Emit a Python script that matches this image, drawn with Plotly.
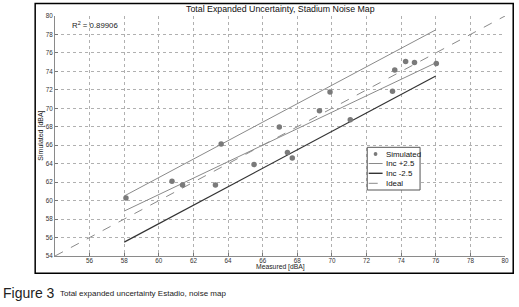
import plotly.graph_objects as go

# ---------------- data ----------------
measured = [58.1, 60.76, 61.37, 63.27, 63.6, 65.5, 66.96, 67.43, 67.71,
            69.28, 69.89, 71.06, 73.5, 73.63, 74.26, 74.77, 76.03]
simulated = [60.28, 62.1, 61.7, 61.7, 66.12, 63.9, 67.97, 65.2, 64.63,
             69.74, 71.77, 68.76, 71.85, 74.16, 75.07, 74.96, 74.85]
inc_x = [58, 76]
inc_plus_y = [60.5, 78.5]
inc_minus_y = [55.5, 73.5]
fit_x = [58, 76.06]
fit_y = [58.87, 74.98]
ideal_x = [54, 80]
ideal_y = [54, 80]
x_ticks = [56, 58, 60, 62, 64, 66, 68, 70, 72, 74, 76, 78, 80]
y_ticks = [54, 56, 58, 60, 62, 64, 66, 68, 70, 72, 74, 76, 78, 80]
r2_text = "R<sup>2</sup> = 0.89906"
title_text = "Total Expanded Uncertainty, Stadium Noise Map"
x_title = "Measured [dBA]"
y_title = "Simulated [dBA]"
legend_names = ["Simulated", "Inc +2.5", "Inc -2.5", "Ideal"]
caption_bold = "Figure 3"
caption_text = "Total expanded uncertainty Estadio, noise map"

# ---------------- layout geometry (pixels) ----------------
W, H = 519, 307
L, R, T, B = 55, 509, 16, 256


def px(x):
    return (x - L) / (R - L)


def py(y):
    return (B - y) / (B - T)


FONT = "Liberation Sans, Arial, sans-serif"
GRAY_PT = "#7a7a7a"
GRAY_LN = "#8a8a8a"
DARK_LN = "#333333"

fig = go.Figure()
fig.add_trace(go.Scatter(x=ideal_x, y=ideal_y, mode="lines",
                         line=dict(color=GRAY_LN, width=1, dash="dash"),
                         name=legend_names[3], showlegend=False))
fig.add_trace(go.Scatter(x=inc_x, y=inc_plus_y, mode="lines",
                         line=dict(color=GRAY_LN, width=1),
                         name=legend_names[1], showlegend=False))
fig.add_trace(go.Scatter(x=fit_x, y=fit_y, mode="lines",
                         line=dict(color=GRAY_LN, width=1),
                         name="fit", showlegend=False))
fig.add_trace(go.Scatter(x=inc_x, y=inc_minus_y, mode="lines",
                         line=dict(color=DARK_LN, width=1.2),
                         name=legend_names[2], showlegend=False))
fig.add_trace(go.Scatter(x=measured, y=simulated, mode="markers",
                         marker=dict(color=GRAY_PT, size=5.5),
                         name=legend_names[0], showlegend=False))

axis_common = dict(showgrid=True, gridcolor="#b0b0b0", griddash="dot",
                   gridwidth=1, zeroline=False, showline=True,
                   linecolor="#8a8a8a", linewidth=1, ticks="inside",
                   ticklen=3, tickcolor="#777777",
                   tickfont=dict(family=FONT, size=6.3, color="#333333"))
fig.update_xaxes(range=[54, 80], tickvals=x_ticks, ticklabelstandoff=-2,
                 **axis_common)
fig.update_yaxes(range=[54, 80], tickvals=y_ticks, **axis_common)

shapes = []
annotations = []
# outer frame
shapes.append(dict(type="rect", xref="paper", yref="paper",
                   x0=px(35), x1=px(517.3), y0=py(273.3), y1=py(3.5),
                   line=dict(color="black", width=1.5)))
# title
annotations.append(dict(text=title_text, xref="paper", yref="paper",
                        x=px(282), y=py(8.5), showarrow=False,
                        xanchor="center", yanchor="middle",
                        font=dict(family=FONT, size=8.8, color="#111111")))
# R^2
annotations.append(dict(text=r2_text, xref="paper", yref="paper",
                        x=px(70), y=py(25.5), showarrow=False,
                        xanchor="left", yanchor="middle",
                        font=dict(family=FONT, size=7.8, color="#222222")))
# axis titles
annotations.append(dict(text=x_title, xref="paper", yref="paper",
                        x=px(282), y=py(267.3), showarrow=False,
                        xanchor="center", yanchor="middle",
                        font=dict(family=FONT, size=6.8, color="#222222")))
annotations.append(dict(text=y_title, xref="paper", yref="paper",
                        x=px(40.5), y=py(136), showarrow=False, textangle=-90,
                        xanchor="center", yanchor="middle",
                        font=dict(family=FONT, size=7, color="#222222")))
# manual legend
shapes.append(dict(type="rect", xref="paper", yref="paper",
                   x0=px(370), x1=px(423.3), y0=py(190), y1=py(147.3),
                   fillcolor="white", line=dict(color="#555555", width=1),
                   layer="above"))
rows = [154, 163.5, 173.3, 183.3]
shapes.append(dict(type="circle", xref="paper", yref="paper",
                   x0=px(376.5), x1=px(380.3), y0=py(rows[0] + 1.9), y1=py(rows[0] - 1.9),
                   fillcolor=GRAY_PT, line=dict(color=GRAY_PT, width=0),
                   layer="above"))
legend_styles = [(GRAY_LN, 1, "solid"), (DARK_LN, 1.4, "solid"), (GRAY_LN, 1, "dash")]
for r, (c, w, d) in zip(rows[1:], legend_styles):
    shapes.append(dict(type="line", xref="paper", yref="paper",
                       x0=px(371.5), x1=px(385.5), y0=py(r), y1=py(r),
                       line=dict(color=c, width=w, dash=d), layer="above"))
for r, name in zip(rows, legend_names):
    annotations.append(dict(text=name, xref="paper", yref="paper",
                            x=px(386.5), y=py(r), showarrow=False,
                            xanchor="left", yanchor="middle",
                            font=dict(family=FONT, size=7.9, color="#111111")))
# caption
annotations.append(dict(text=caption_bold, xref="paper", yref="paper",
                        x=px(1), y=py(292.5), showarrow=False,
                        xanchor="left", yanchor="middle",
                        font=dict(family=FONT, size=14, color="#222222")))
annotations.append(dict(text=caption_text, xref="paper", yref="paper",
                        x=px(58.5), y=py(293.8), showarrow=False,
                        xanchor="left", yanchor="middle",
                        font=dict(family=FONT, size=8, color="#222222")))

fig.update_layout(width=W, height=H, autosize=False,
                  margin=dict(l=L, r=W - R, t=T, b=H - B, pad=0),
                  paper_bgcolor="white", plot_bgcolor="white",
                  showlegend=False, shapes=shapes, annotations=annotations)

fig.write_html("out.html", config={"displayModeBar": False},
               post_script="document.body.style.margin='0px';"
                           "document.body.style.overflow='hidden';")
